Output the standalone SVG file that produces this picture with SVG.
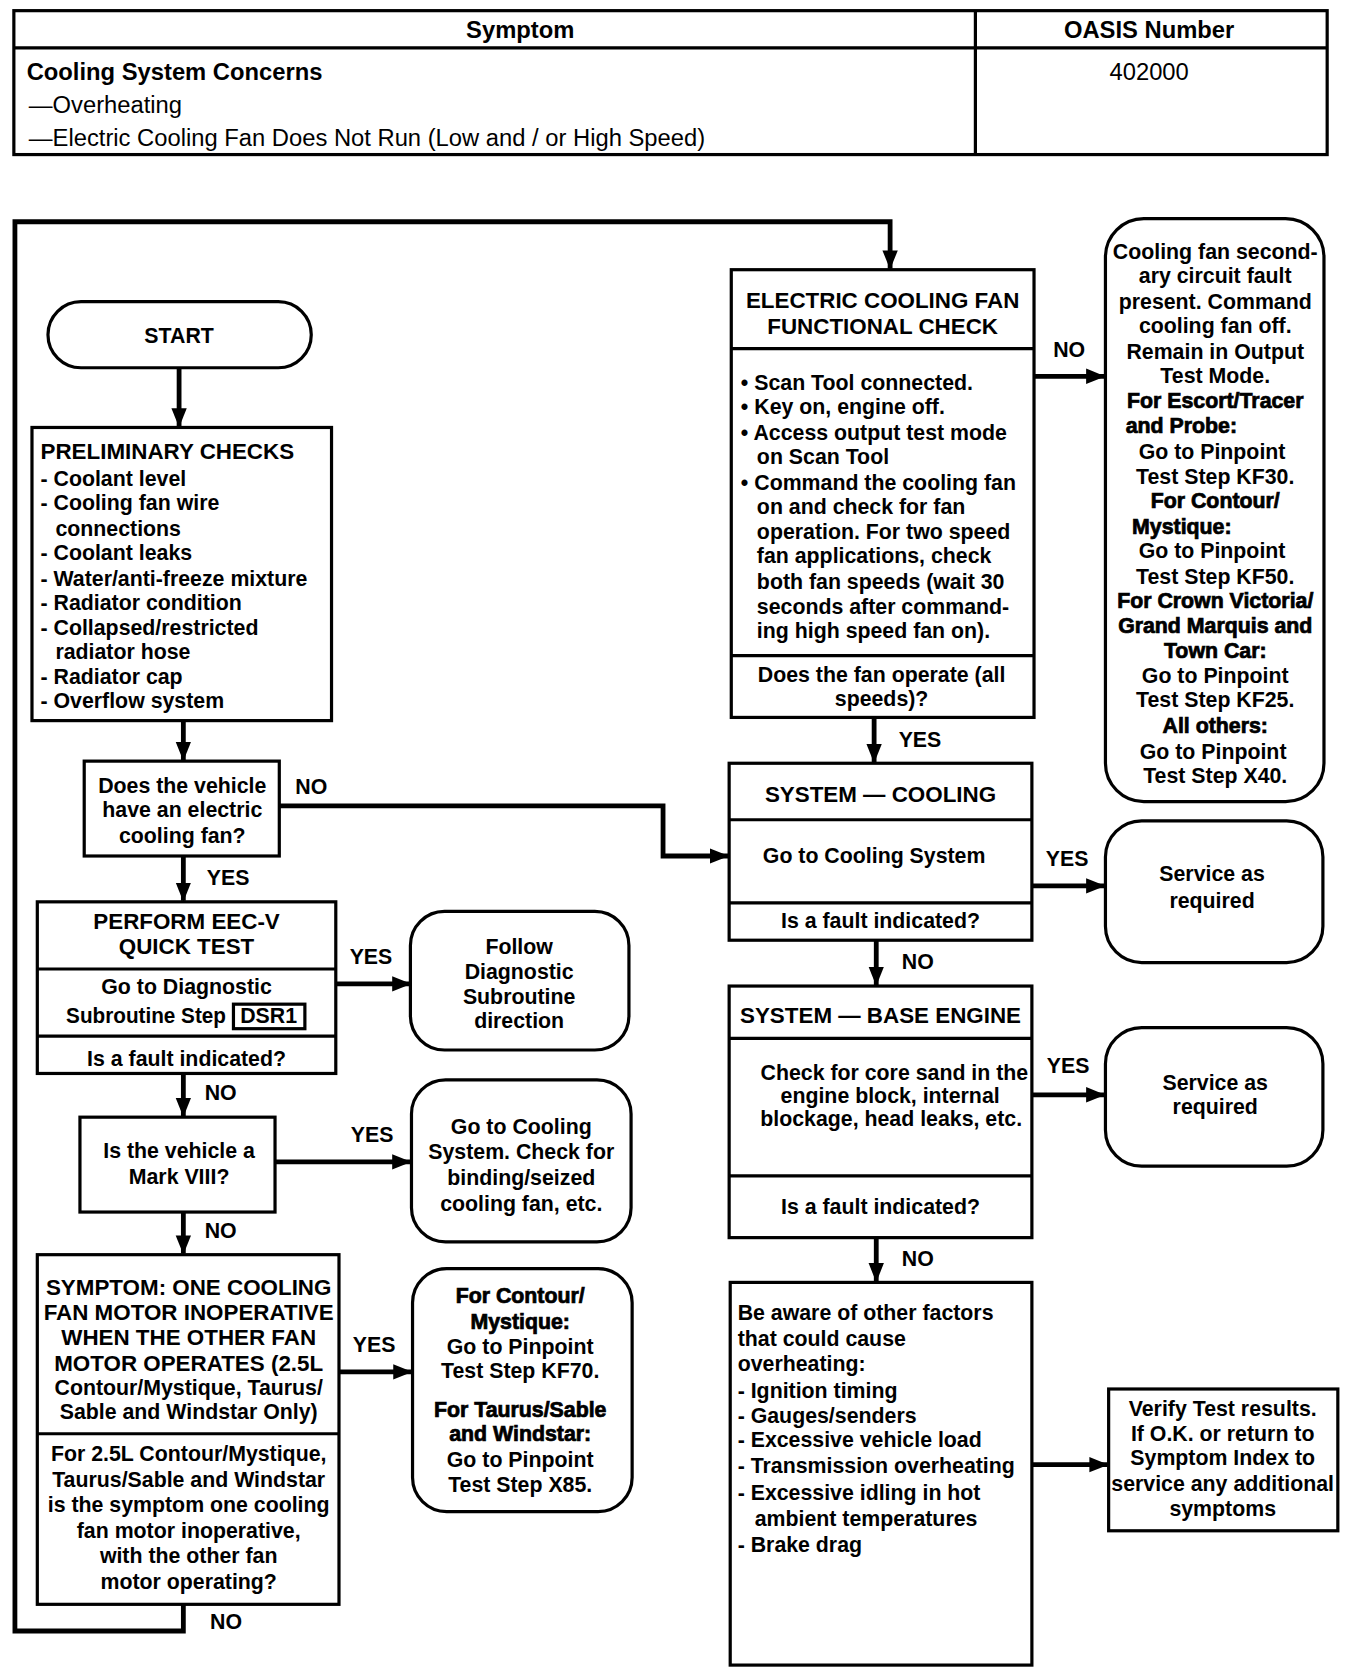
<svg xmlns="http://www.w3.org/2000/svg" width="1360" height="1672" viewBox="0 0 1360 1672">
<style>
text{font-family:"Liberation Sans",Arial,sans-serif;font-weight:bold;font-size:20px;fill:#000;dominant-baseline:central}
.t{font-size:22.3px}
.tn{font-size:22.3px;font-weight:normal}
.h{font-size:21px}
.hv{stroke:#000;stroke-width:0.7px}
.m{text-anchor:middle}
.box{fill:#fff;stroke:#000;stroke-width:3}
.ln{fill:none;stroke:#000;stroke-width:3}
.c{fill:none;stroke:#000;stroke-width:4.5;marker-end:url(#ah)}
</style>
<defs>
<marker id="ah" viewBox="0 0 20 16" refX="19" refY="8" markerWidth="18" markerHeight="15" markerUnits="userSpaceOnUse" orient="auto"><path d="M0,0 L20,8 L0,16 z" fill="#000"/></marker>
</defs>
<rect width="1360" height="1672" fill="#fff"/>
<g transform="scale(1.066)">
<g id="table">
<rect class="box" x="13" y="10" width="1232" height="135"/>
<line class="ln" x1="13" y1="45" x2="1245" y2="45"/>
<line class="ln" x1="915" y1="10" x2="915" y2="145"/>
<text class="t m" x="488" y="28">Symptom</text>
<text class="t m" x="1078" y="28">OASIS Number</text>
<text class="t" x="25" y="67">Cooling System Concerns</text>
<text class="tn" x="27" y="98">—Overheating</text>
<text class="tn" x="27" y="129">—Electric Cooling Fan Does Not Run (Low and / or High Speed)</text>
<text class="tn m" x="1078" y="67">402000</text>
</g>
<g id="connectors">
<path class="c" d="M168,345 V400"/>
<path class="c" d="M172,676 V713"/>
<path class="c" d="M262,756 H622 V803 H683"/>
<path class="c" d="M172,803 V845"/>
<path class="c" d="M315,923 H385"/>
<path class="c" d="M172,1007 V1047"/>
<path class="c" d="M258,1090 H385"/>
<path class="c" d="M172,1137 V1176"/>
<path class="c" d="M318,1287 H386"/>
<path class="c" d="M172,1505 V1530 H14 V208 H835 V252"/>
<path class="c" d="M970,353 H1036"/>
<path class="c" d="M820,673 V715"/>
<path class="c" d="M968,831 H1036"/>
<path class="c" d="M822,882 V924"/>
<path class="c" d="M968,1027 H1036"/>
<path class="c" d="M822,1161 V1202"/>
<path class="c" d="M968,1374 H1039"/>
<text x="277" y="738">NO</text>
<text x="194" y="824">YES</text>
<text x="328" y="898">YES</text>
<text x="192" y="1025">NO</text>
<text x="329" y="1065">YES</text>
<text x="192" y="1155">NO</text>
<text x="331" y="1262">YES</text>
<text x="197" y="1522">NO</text>
<text x="988" y="328">NO</text>
<text x="843" y="694">YES</text>
<text x="981" y="806">YES</text>
<text x="846" y="902">NO</text>
<text x="982" y="1000">YES</text>
<text x="846" y="1181">NO</text>
</g>
<g id="start">
<rect class="box" x="45" y="283" width="247" height="62" rx="31"/>
<text class="m" x="168" y="315">START</text>
</g>
<g id="preliminary">
<rect class="box" x="30" y="401" width="281" height="275"/>
<text class="h" x="38" y="424">PRELIMINARY CHECKS</text>
<text x="38" y="449">- Coolant level</text>
<text x="38" y="472">- Cooling fan wire</text>
<text x="52" y="496">connections</text>
<text x="38" y="519">- Coolant leaks</text>
<text x="38" y="543">- Water/anti-freeze mixture</text>
<text x="38" y="566">- Radiator condition</text>
<text x="38" y="589">- Collapsed/restricted</text>
<text x="52" y="612">radiator hose</text>
<text x="38" y="635">- Radiator cap</text>
<text x="38" y="658">- Overflow system</text>
</g>
<g id="q-electric-fan">
<rect class="box" x="79" y="714" width="183" height="89"/>
<text class="m" x="171" y="737">Does the vehicle</text>
<text class="m" x="171" y="760">have an electric</text>
<text class="m" x="171" y="784">cooling fan?</text>
</g>
<g id="eec-quick-test">
<rect class="box" x="35" y="846" width="280" height="161"/>
<line class="ln" x1="35" y1="909" x2="315" y2="909"/>
<line class="ln" x1="35" y1="972" x2="315" y2="972"/>
<text class="h m" x="175" y="864">PERFORM EEC-V</text>
<text class="h m" x="175" y="888">QUICK TEST</text>
<text class="m" x="175" y="926">Go to Diagnostic</text>
<text x="62" y="953" textLength="150" lengthAdjust="spacingAndGlyphs">Subroutine Step</text>
<rect class="box" x="219" y="942" width="67" height="23"/>
<text class="m" x="252" y="953">DSR1</text>
<text class="m" x="175" y="993">Is a fault indicated?</text>
</g>
<g id="follow-dsr">
<rect class="box" x="385" y="855" width="205" height="130" rx="32"/>
<text class="m" x="487" y="888">Follow</text>
<text class="m" x="487" y="912">Diagnostic</text>
<text class="m" x="487" y="935">Subroutine</text>
<text class="m" x="487" y="958">direction</text>
</g>
<g id="q-mark-viii">
<rect class="box" x="75" y="1048" width="183" height="89"/>
<text class="m" x="168" y="1080">Is the vehicle a</text>
<text class="m" x="168" y="1104">Mark VIII?</text>
</g>
<g id="go-cooling-binding">
<rect class="box" x="386" y="1013" width="206" height="152" rx="32"/>
<text class="m" x="489" y="1057">Go to Cooling</text>
<text class="m" x="489" y="1081">System. Check for</text>
<text class="m" x="489" y="1105">binding/seized</text>
<text class="m" x="489" y="1129">cooling fan, etc.</text>
</g>
<g id="symptom-one-fan">
<rect class="box" x="35" y="1177" width="283" height="328"/>
<line class="ln" x1="35" y1="1345" x2="318" y2="1345"/>
<text class="h m" x="177" y="1208">SYMPTOM: ONE COOLING</text>
<text class="h m" x="177" y="1231">FAN MOTOR INOPERATIVE</text>
<text class="h m" x="177" y="1255">WHEN THE OTHER FAN</text>
<text class="h m" x="177" y="1279">MOTOR OPERATES (2.5L</text>
<text class="m" x="177" y="1302">Contour/Mystique, Taurus/</text>
<text class="m" x="177" y="1325">Sable and Windstar Only)</text>
<text class="m" x="177" y="1364">For 2.5L Contour/Mystique,</text>
<text class="m" x="177" y="1388">Taurus/Sable and Windstar</text>
<text class="m" x="177" y="1412">is the symptom one cooling</text>
<text class="m" x="177" y="1436">fan motor inoperative,</text>
<text class="m" x="177" y="1460">with the other fan</text>
<text class="m" x="177" y="1484">motor operating?</text>
</g>
<g id="pinpoint-kf70-x85">
<rect class="box" x="387" y="1190" width="206" height="228" rx="32"/>
<text class="m hv" x="488" y="1216">For Contour/</text>
<text class="m hv" x="488" y="1240">Mystique:</text>
<text class="m" x="488" y="1264">Go to Pinpoint</text>
<text class="m" x="488" y="1286">Test Step KF70.</text>
<text class="m hv" x="488" y="1323">For Taurus/Sable</text>
<text class="m hv" x="488" y="1345">and Windstar:</text>
<text class="m" x="488" y="1370">Go to Pinpoint</text>
<text class="m" x="488" y="1393">Test Step X85.</text>
</g>
<g id="fan-functional-check">
<rect class="box" x="686" y="253" width="284" height="420"/>
<line class="ln" x1="686" y1="327" x2="970" y2="327"/>
<line class="ln" x1="686" y1="615" x2="970" y2="615"/>
<text class="h m" x="828" y="282">ELECTRIC COOLING FAN</text>
<text class="h m" x="828" y="306">FUNCTIONAL CHECK</text>
<text x="695" y="359">• Scan Tool connected.</text>
<text x="695" y="382">• Key on, engine off.</text>
<text x="695" y="406">• Access output test mode</text>
<text x="710" y="429">on Scan Tool</text>
<text x="695" y="453">• Command the cooling fan</text>
<text x="710" y="476">on and check for fan</text>
<text x="710" y="499">operation. For two speed</text>
<text x="710" y="522">fan applications, check</text>
<text x="710" y="546">both fan speeds (wait 30</text>
<text x="710" y="569">seconds after command-</text>
<text x="710" y="592">ing high speed fan on).</text>
<text class="m" x="827" y="633">Does the fan operate (all</text>
<text class="m" x="827" y="656">speeds)?</text>
</g>
<g id="secondary-circuit-fault">
<rect class="box" x="1037" y="205" width="205" height="547" rx="36"/>
<text class="m" x="1140" y="236">Cooling fan second-</text>
<text class="m" x="1140" y="259">ary circuit fault</text>
<text class="m" x="1140" y="283">present. Command</text>
<text class="m" x="1140" y="306">cooling fan off.</text>
<text class="m" x="1140" y="330">Remain in Output</text>
<text class="m" x="1140" y="353">Test Mode.</text>
<text class="m hv" x="1140" y="376">For Escort/Tracer</text>
<text class="hv" x="1056" y="400">and Probe:</text>
<text class="m" x="1137" y="424">Go to Pinpoint</text>
<text class="m" x="1140" y="447">Test Step KF30.</text>
<text class="m hv" x="1140" y="470">For Contour/</text>
<text class="hv" x="1062" y="494">Mystique:</text>
<text class="m" x="1137" y="517">Go to Pinpoint</text>
<text class="m" x="1140" y="541">Test Step KF50.</text>
<text class="m hv" x="1140" y="564">For Crown Victoria/</text>
<text class="m hv" x="1140" y="587">Grand Marquis and</text>
<text class="m hv" x="1140" y="611">Town Car:</text>
<text class="m" x="1140" y="634">Go to Pinpoint</text>
<text class="m" x="1140" y="657">Test Step KF25.</text>
<text class="m hv" x="1140" y="681">All others:</text>
<text class="m" x="1138" y="705">Go to Pinpoint</text>
<text class="m" x="1140" y="728">Test Step X40.</text>
</g>
<g id="system-cooling">
<rect class="box" x="684" y="716" width="284" height="166"/>
<line class="ln" x1="684" y1="769" x2="968" y2="769"/>
<line class="ln" x1="684" y1="847" x2="968" y2="847"/>
<text class="h m" x="826" y="745">SYSTEM — COOLING</text>
<text class="m" x="820" y="803">Go to Cooling System</text>
<text class="m" x="826" y="864">Is a fault indicated?</text>
</g>
<g id="service-1">
<rect class="box" x="1037" y="770" width="204" height="133" rx="34"/>
<text class="m" x="1137" y="820">Service as</text>
<text class="m" x="1137" y="845">required</text>
</g>
<g id="system-base-engine">
<rect class="box" x="684" y="925" width="284" height="236"/>
<line class="ln" x1="684" y1="974" x2="968" y2="974"/>
<line class="ln" x1="684" y1="1103" x2="968" y2="1103"/>
<text class="h m" x="826" y="953">SYSTEM — BASE ENGINE</text>
<text class="m" x="839" y="1007">Check for core sand in the</text>
<text class="m" x="835" y="1028">engine block, internal</text>
<text class="m" x="836" y="1050">blockage, head leaks, etc.</text>
<text class="m" x="826" y="1132">Is a fault indicated?</text>
</g>
<g id="service-2">
<rect class="box" x="1037" y="964" width="204" height="130" rx="34"/>
<text class="m" x="1140" y="1016">Service as</text>
<text class="m" x="1140" y="1038">required</text>
</g>
<g id="other-factors">
<rect class="box" x="685" y="1203" width="283" height="359"/>
<text x="692" y="1232">Be aware of other factors</text>
<text x="692" y="1256">that could cause</text>
<text x="692" y="1280">overheating:</text>
<text x="692" y="1305">- Ignition timing</text>
<text x="692" y="1328">- Gauges/senders</text>
<text x="692" y="1351">- Excessive vehicle load</text>
<text x="692" y="1375">- Transmission overheating</text>
<text x="692" y="1401">- Excessive idling in hot</text>
<text x="708" y="1425">ambient temperatures</text>
<text x="692" y="1449">- Brake drag</text>
</g>
<g id="verify">
<rect class="box" x="1040" y="1303" width="215" height="133"/>
<text class="m" x="1147" y="1322">Verify Test results.</text>
<text class="m" x="1147" y="1345">If O.K. or return to</text>
<text class="m" x="1147" y="1368">Symptom Index to</text>
<text class="m" x="1147" y="1392">service any additional</text>
<text class="m" x="1147" y="1416">symptoms</text>
</g>
</g>
</svg>
